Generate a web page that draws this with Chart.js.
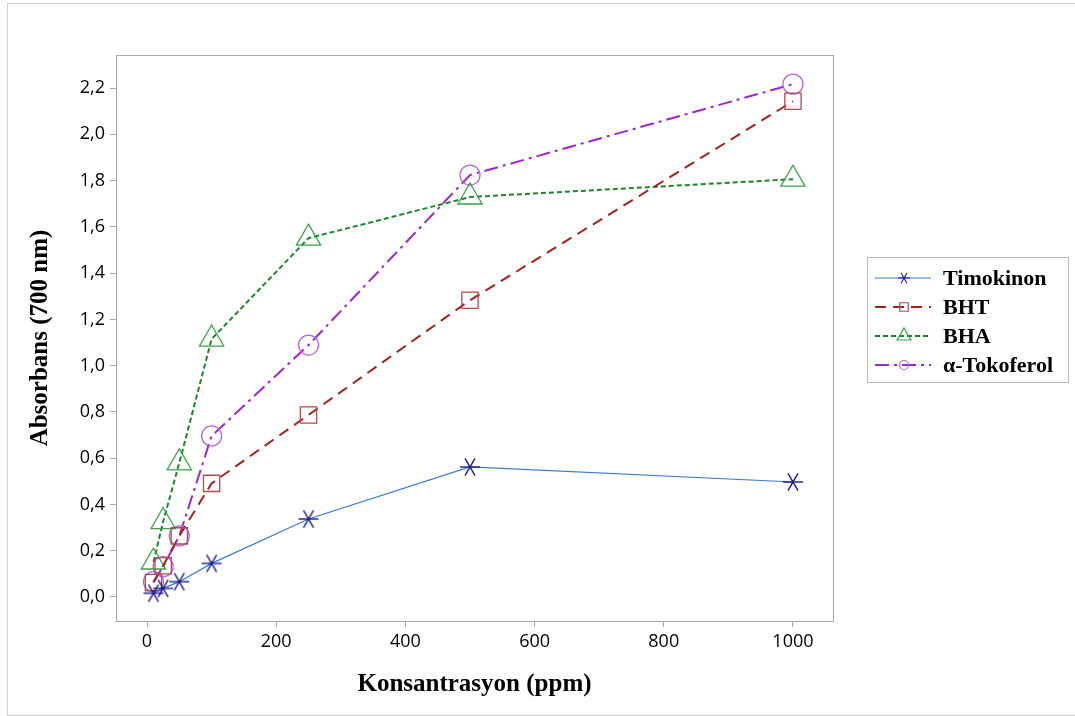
<!DOCTYPE html>
<html>
<head>
<meta charset="utf-8">
<script src="https://cdn.jsdelivr.net/npm/chart.js@4"></script>
<style>
  html, body { margin: 0; padding: 0; background: #fff; }
  #wrap { width: 1075px; height: 716px; }
</style>
</head>
<body>
<div id="wrap"><canvas id="absChart" width="1075" height="716"></canvas></div>
<script>
// Konsantrasyon (ppm)
const concentrations = [10, 25, 50, 100, 250, 500, 1000];

// Absorbans (700 nm) degerleri
const timokinon = [0.016, 0.037, 0.066, 0.145, 0.337, 0.562, 0.497];
const bht       = [0.062, 0.135, 0.264, 0.491, 0.787, 1.283, 2.143];
const bha       = [0.151, 0.326, 0.580, 1.115, 1.551, 1.729, 1.806];
const tokoferol = [0.066, 0.131, 0.264, 0.696, 1.089, 1.824, 2.217];

const seriesNames = ['Timokinon', 'BHT', 'BHA', '\u03b1-Tokoferol'];

// Eksen etiketleri
const xTicks = [0, 200, 400, 600, 800, 1000];
const yTicks = [0, 0.2, 0.4, 0.6, 0.8, 1.0, 1.2, 1.4, 1.6, 1.8, 2.0, 2.2];

/**
 * Yildiz (asterisk) isaretci: 3 cizgi, 6 kol
 */
function makeStar(color, r, lw) {
    const size = Math.ceil(r * 2 + 4);
    const c = document.createElement('canvas');
    c.width = size;
    c.height = size;
    const g = c.getContext('2d');
    g.strokeStyle = color;
    g.lineWidth = lw;
    const m = size / 2;
    [0, 60, 120].forEach(a => {
        const rad = a * Math.PI / 180;
        g.beginPath();
        g.moveTo(m - r * Math.cos(rad), m - r * Math.sin(rad));
        g.lineTo(m + r * Math.cos(rad), m + r * Math.sin(rad));
        g.stroke();
    });
    return c;
}

const toPoints = ys => concentrations.map((x, i) => ({ x, y: ys[i] }));

const datasets = [
    {
        label: seriesNames[0],
        data: toPoints(timokinon),
        borderColor: '#3a7bcf',
        borderWidth: 1.2,
        pointStyle: makeStar('#1c1c86', 10, 1.4),
        legendStyle: makeStar('#1c1c86', 6, 1.1),
        pointBorderColor: '#1c1c86',
        pointRadius: 10
    },
    {
        label: seriesNames[1],
        data: toPoints(bht),
        borderColor: '#a3221f',
        borderWidth: 2,
        borderDash: [11, 7],
        pointStyle: 'rect',
        legendStyle: 'rect',
        legendRadius: 6,
        pointRadius: 11.5,
        pointBorderColor: '#b24a4e',
        pointBorderWidth: 1.3
    },
    {
        label: seriesNames[2],
        data: toPoints(bha),
        borderColor: '#17892a',
        borderWidth: 2,
        borderDash: [5, 3],
        pointStyle: 'triangle',
        legendStyle: 'triangle',
        legendRadius: 8,
        pointRadius: 14,
        pointBorderColor: '#3ba04c',
        pointBorderWidth: 1.3
    },
    {
        label: seriesNames[3],
        data: toPoints(tokoferol),
        borderColor: '#9a28cc',
        borderWidth: 2,
        borderDash: [14, 5, 3, 5],
        pointStyle: 'circle',
        legendStyle: 'circle',
        legendRadius: 4.5,
        pointRadius: 10,
        pointBorderColor: '#b565e0',
        pointBorderWidth: 1.3
    }
].map(ds => ({
    fill: false,
    tension: 0,
    pointBackgroundColor: 'rgba(0,0,0,0)',
    pointHoverRadius: ds.pointRadius,
    ...ds
}));

// Dis cerceve ve grafik alani kutusu
const framePlugin = {
    id: 'frame',
    beforeDraw(chart) {
        const ctx = chart.ctx;
        ctx.save();
        ctx.fillStyle = '#fff';
        ctx.fillRect(0, 0, chart.width, chart.height);
        ctx.strokeStyle = '#cfcfcf';
        ctx.lineWidth = 1;
        ctx.strokeRect(7.5, 3.5, chart.width, chart.height - 4);
        ctx.restore();
    },
    afterDraw(chart) {
        const a = chart.chartArea;
        const ctx = chart.ctx;
        ctx.save();
        ctx.strokeStyle = '#a8a8a8';
        ctx.lineWidth = 1;
        ctx.strokeRect(Math.round(a.left) + 0.5, Math.round(a.top) + 0.5,
            Math.round(a.right - a.left), Math.round(a.bottom - a.top));
        ctx.restore();
    }
};

// Minitab tarzi kutulu lejant
const boxLegendPlugin = {
    id: 'boxLegend',
    afterDraw(chart) {
        const ctx = chart.ctx;
        const box = { x: 867, y: 257, w: 201, h: 125 };
        const rowY = [278, 307, 336, 365];
        ctx.save();
        ctx.strokeStyle = '#b8b8b8';
        ctx.lineWidth = 1;
        ctx.strokeRect(box.x + 0.5, box.y + 0.5, box.w, box.h);
        chart.data.datasets.forEach((ds, i) => {
            const y = rowY[i];
            ctx.strokeStyle = ds.borderColor;
            ctx.lineWidth = ds.borderWidth;
            ctx.setLineDash(ds.borderDash || []);
            ctx.beginPath();
            ctx.moveTo(875, y);
            ctx.lineTo(931, y);
            ctx.stroke();
            ctx.setLineDash([]);
            ctx.strokeStyle = ds.pointBorderColor;
            ctx.fillStyle = 'rgba(0,0,0,0)';
            ctx.lineWidth = 1.2;
            Chart.helpers.drawPoint(ctx, {
                pointStyle: ds.legendStyle,
                radius: ds.legendRadius || 6,
                rotation: 0,
                borderWidth: 1.2
            }, 904, y);
            ctx.fillStyle = '#000';
            ctx.font = 'bold 22px "Liberation Serif", serif';
            ctx.textBaseline = 'middle';
            ctx.textAlign = 'left';
            ctx.fillText(ds.label, 943, y + 1);
        });
        ctx.restore();
    }
};

const tickFont = { family: '"Open Sans", "Noto Sans", sans-serif', size: 18 };
const titleFont = { family: '"Liberation Serif", "Times New Roman", serif', size: 25, weight: 'bold' };

new Chart(document.getElementById('absChart'), {
    type: 'line',
    data: { datasets },
    options: {
        responsive: false,
        animation: false,
        events: [],
        layout: { padding: { left: 0, top: 55, right: 242, bottom: 0 } },
        plugins: {
            legend: { display: false },
            tooltip: { enabled: false }
        },
        scales: {
            x: {
                type: 'linear',
                min: -48,
                max: 1062,
                afterBuildTicks: s => { s.ticks = xTicks.map(v => ({ value: v })); },
                afterFit: s => { s.height = 95; },
                grid: { drawOnChartArea: false, drawTicks: true, tickLength: 6, color: '#a8a8a8' },
                border: { display: true, color: '#a8a8a8' },
                ticks: { color: '#000', font: tickFont, padding: 4, maxRotation: 0, callback: v => String(v) },
                title: {
                    display: true,
                    text: 'Konsantrasyon (ppm)',
                    color: '#000',
                    font: titleFont,
                    padding: { top: 0, bottom: 16 }
                }
            },
            y: {
                type: 'linear',
                min: -0.104,
                max: 2.343,
                afterBuildTicks: s => { s.ticks = yTicks.map(v => ({ value: v })); },
                afterFit: s => { s.width = 116; },
                grid: { drawOnChartArea: false, drawTicks: true, tickLength: 6, color: '#a8a8a8' },
                border: { display: true, color: '#a8a8a8' },
                ticks: {
                    color: '#000',
                    font: tickFont,
                    padding: 5,
                    callback: v => v.toFixed(1).replace('.', ',')
                },
                title: {
                    display: true,
                    text: 'Absorbans (700 nm)',
                    color: '#000',
                    font: titleFont,
                    padding: { top: 26, bottom: 0 }
                }
            }
        }
    },
    plugins: [framePlugin, boxLegendPlugin]
});
</script>
</body>
</html>
